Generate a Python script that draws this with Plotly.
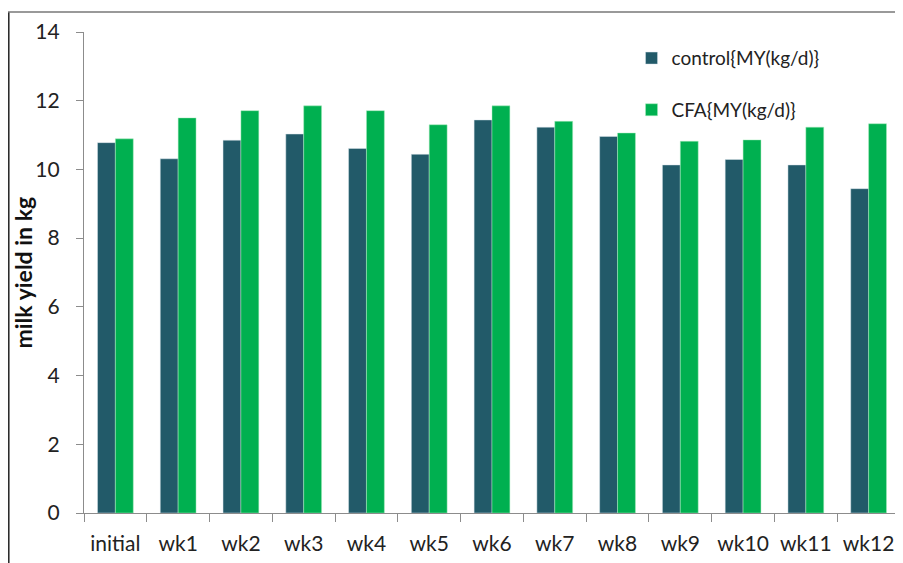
import plotly.graph_objects as go

categories = ["initial", "wk1", "wk2", "wk3", "wk4", "wk5", "wk6", "wk7", "wk8", "wk9", "wk10", "wk11", "wk12"]
control = [10.78, 10.31, 10.85, 11.03, 10.61, 10.44, 11.44, 11.23, 10.96, 10.13, 10.29, 10.13, 9.44]
cfa = [10.89, 11.50, 11.71, 11.85, 11.71, 11.30, 11.85, 11.40, 11.06, 10.82, 10.86, 11.23, 11.33]
series_names = ["control{MY(kg/d)}", "CFA{MY(kg/d)}"]
y_ticks = [0, 2, 4, 6, 8, 10, 12, 14]

FONT = "Lato"
# page body has an 8px margin, so the figure is drawn 8px in from the window edge
W, H = 895, 555
L, R, T, B = 76, 3, 24, 50
PW, PH = W - L - R, H - T - B


def px_x(fx):
    return (fx - L) / PW


def px_y(fy):
    return (H - B - fy) / PH


fig = go.Figure()
fig.add_trace(go.Bar(x=categories, y=control, name=series_names[0], legendgroup="a",
                     marker=dict(color="#225A69", line=dict(color="rgba(220,230,235,0.8)", width=0.6))))
fig.add_trace(go.Bar(x=categories, y=cfa, name=series_names[1], legendgroup="b",
                     marker=dict(color="#00B050", line=dict(color="rgba(170,235,190,0.8)", width=0.6))))

fig.update_layout(
    width=W, height=H,
    margin=dict(l=L, r=R, t=T, b=B, autoexpand=False),
    paper_bgcolor="white", plot_bgcolor="white",
    barmode="group", bargap=0.43, bargroupgap=0,
    font=dict(family=FONT, color="#222222"),
    showlegend=True,
    legend=dict(x=0.671, y=0.985, xanchor="left", yanchor="top",
                font=dict(size=19, color="#222222", family=FONT),
                traceorder="grouped", tracegroupgap=24,
                itemwidth=30, bgcolor="rgba(0,0,0,0)"),
    xaxis=dict(showline=True, linecolor="#8c8c8c", linewidth=1.3,
               ticks="outside", tickson="boundaries", ticklen=8, tickcolor="#8c8c8c",
               tickangle=0, ticklabelstandoff=12,
               tickfont=dict(size=21, color="#222222", family=FONT),
               showgrid=False, range=[-0.5, 12.5]),
    yaxis=dict(range=[0, 14], tickvals=y_ticks, showline=True, linecolor="#8c8c8c", linewidth=1.3,
               ticks="outside", ticklen=7, tickcolor="#8c8c8c", ticklabelstandoff=12,
               tickfont=dict(size=21, color="#222222", family=FONT),
               showgrid=False, zeroline=False),
    annotations=[dict(text="<b>milk yield in kg</b>", textangle=-90, xref="paper", yref="paper",
                      x=px_x(14), y=0.5,
                      xanchor="center", yanchor="middle", showarrow=False,
                      font=dict(size=23, color="#111111", family=FONT))],
    shapes=[
        dict(type="line", xref="paper", yref="paper",
             x0=px_x(0.8), x1=px_x(0.8), y0=px_y(4), y1=px_y(H + 10),
             line=dict(color="#222222", width=1.5)),
        dict(type="line", xref="paper", yref="paper",
             x0=px_x(0), x1=px_x(W + 10), y0=px_y(4), y1=px_y(4),
             line=dict(color="#777777", width=1.5)),
    ],
)

fig.write_html("out.html")
